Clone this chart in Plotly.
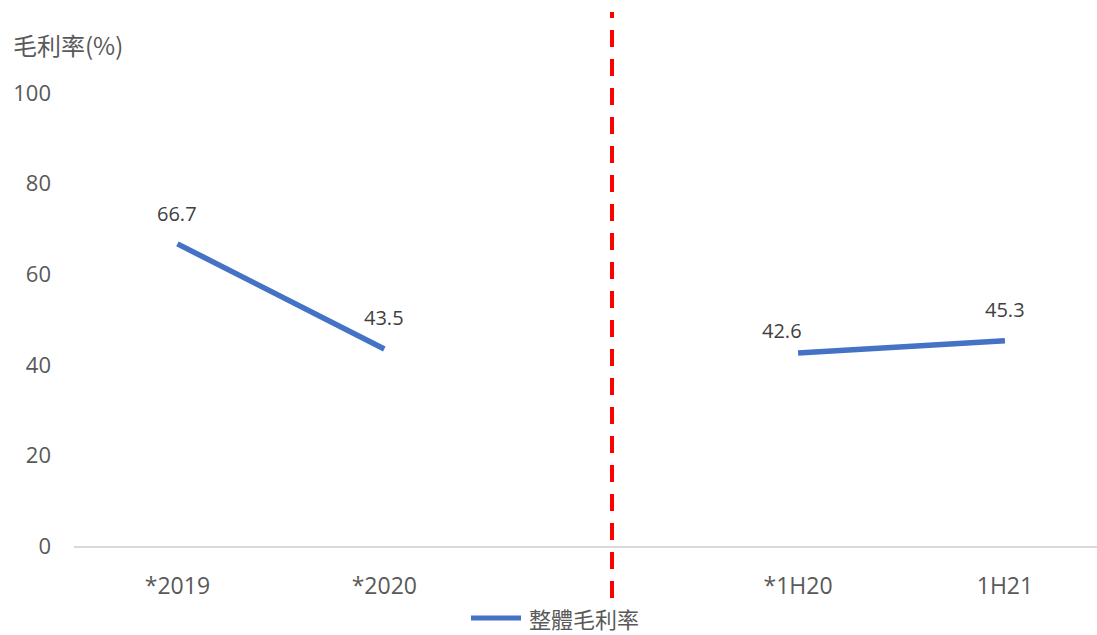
import plotly.graph_objects as go

# Gross margin (%) by period; the blank slot separates annual from half-year figures
categories = ["*2019", "*2020", " ", "*1H20", "1H21"]
margin_pct = [66.7, 43.5, None, 42.6, 45.3]
label_offsets = [(0, 30), (0, 31), None, (-16, 23), (0, 31)]  # (dx, dy) px for value labels
y_ticks = [0, 20, 40, 60, 80, 100]
series_name = "整體毛利率"
y_title = "毛利率(%)"

W, H = 1097, 635
L, R, T, B = 74, 0, 93, 89
plot_w = W - L - R
plot_h = H - T - B

grey = "#595959"
blue = "#4472C4"
latin = "Open Sans, Noto Sans, sans-serif"
cjk = "Noto Sans CJK TC, Noto Sans CJK SC, sans-serif"

fig = go.Figure()
fig.add_trace(go.Scatter(
    x=categories, y=margin_pct, mode="lines",
    line=dict(color=blue, width=5.5), connectgaps=False,
    name=series_name, showlegend=False, hoverinfo="x+y",
))

# value labels above each point
for c, v, off in zip(categories, margin_pct, label_offsets):
    if v is None:
        continue
    fig.add_annotation(x=c, y=v, text=f"{v:.1f}", showarrow=False,
                       xshift=off[0], yshift=off[1],
                       font=dict(family=latin, size=20, color="#404040"))

# vertical red dashed divider between annual and half-year periods
div_x = (612 - L) / plot_w
fig.add_shape(type="line", xref="paper", yref="paper",
              x0=div_x, x1=div_x, y0=(546 - 598) / plot_h, y1=(546 - 12) / plot_h,
              line=dict(color="#FF0000", width=4, dash="17px,12px"))

# y-axis title at the top left
fig.add_annotation(xref="paper", yref="paper", x=-(L - 11) / plot_w, y=(546 - 45) / plot_h,
                   xanchor="left", yanchor="middle", text=y_title, showarrow=False,
                   font=dict(family=cjk, size=24, color=grey))

# legend: line sample + series name
leg_y = -(618 - 546) / plot_h
fig.add_shape(type="line", xref="paper", yref="paper",
              x0=(471 - L) / plot_w, x1=(521 - L) / plot_w, y0=leg_y, y1=leg_y,
              line=dict(color=blue, width=5))
fig.add_annotation(xref="paper", yref="paper", x=(528 - L) / plot_w, y=leg_y,
                   xanchor="left", yanchor="middle", text=series_name, showarrow=False,
                   font=dict(family=cjk, size=22, color=grey), borderpad=0)

fig.update_layout(
    width=W, height=H,
    margin=dict(l=L, r=R, t=T, b=B),
    paper_bgcolor="white", plot_bgcolor="white",
    showlegend=False,
    xaxis=dict(type="category", categoryorder="array", categoryarray=categories,
               range=[-0.5, 4.445], showgrid=False, zeroline=False,
               showline=True, linecolor="#D9D9D9", linewidth=1.5,
               ticks="", ticklabelstandoff=19,
               tickfont=dict(family=latin, size=23, color=grey)),
    yaxis=dict(range=[0, 100], tickvals=y_ticks, showgrid=False, zeroline=False,
               showline=False, ticks="", ticklabelstandoff=22,
               tickfont=dict(family=latin, size=22, color=grey)),
)

fig.write_html("out.html")
